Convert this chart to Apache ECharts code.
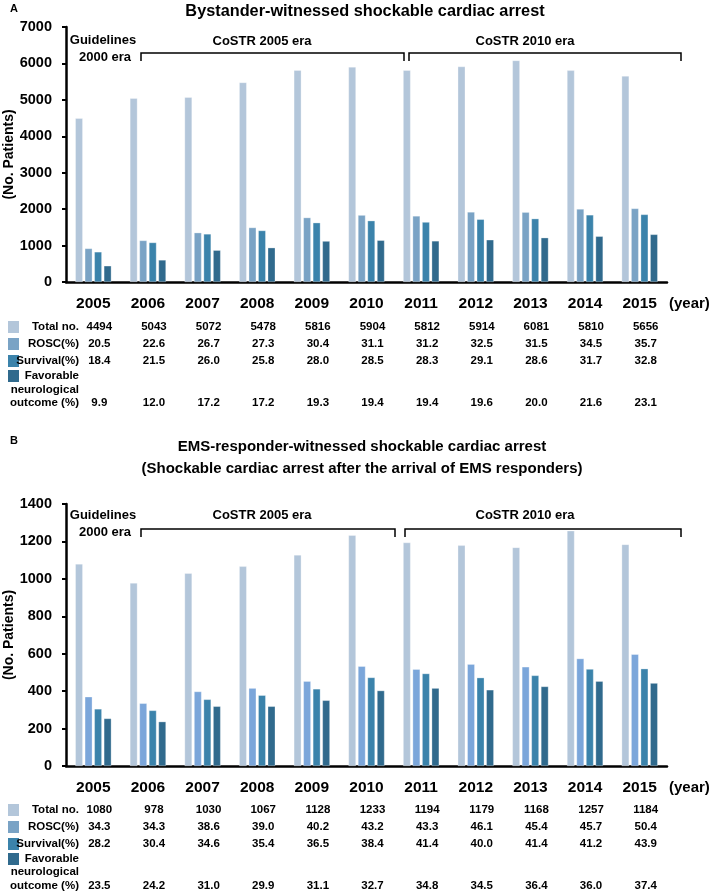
<!DOCTYPE html>
<html><head><meta charset="utf-8">
<script src="https://cdn.jsdelivr.net/npm/echarts@6/dist/echarts.min.js"></script>
<style>html,body{margin:0;padding:0;background:#fff}#c{width:709px;height:895px}</style>
</head><body><div id="c"></div>
<script>
const years = ['2005','2006','2007','2008','2009','2010','2011','2012','2013','2014','2015'];
// Panel A: bystander-witnessed (bar values = number of patients)
const aTotal = [4494,5043,5072,5478,5816,5904,5812,5914,6081,5810,5656];
const aRosc  = [921,1140,1354,1495,1768,1836,1813,1922,1916,2004,2019];
const aSurv  = [827,1084,1319,1413,1628,1683,1645,1721,1739,1842,1855];
const aFav   = [445,605,872,942,1123,1145,1128,1159,1216,1255,1307];
// Panel A table
const aTabTotal = ['4494','5043','5072','5478','5816','5904','5812','5914','6081','5810','5656'];
const aTabRosc  = ['20.5','22.6','26.7','27.3','30.4','31.1','31.2','32.5','31.5','34.5','35.7'];
const aTabSurv  = ['18.4','21.5','26.0','25.8','28.0','28.5','28.3','29.1','28.6','31.7','32.8'];
const aTabFav   = ['9.9','12.0','17.2','17.2','19.3','19.4','19.4','19.6','20.0','21.6','23.1'];
// Panel B: EMS-responder-witnessed
const bTotal = [1080,978,1030,1067,1128,1233,1194,1179,1168,1257,1184];
const bRosc  = [370,335,398,416,453,533,517,544,530,574,597];
const bSurv  = [305,297,356,378,412,473,494,472,484,518,520];
const bFav   = [254,237,319,319,351,403,416,407,425,453,443];
const bTabTotal = ['1080','978','1030','1067','1128','1233','1194','1179','1168','1257','1184'];
const bTabRosc  = ['34.3','34.3','38.6','39.0','40.2','43.2','43.3','46.1','45.4','45.7','50.4'];
const bTabSurv  = ['28.2','30.4','34.6','35.4','36.5','38.4','41.4','40.0','41.4','41.2','43.9'];
const bTabFav   = ['23.5','24.2','31.0','29.9','31.1','32.7','34.8','34.5','36.4','36.0','37.4'];
const rowLabels = ['Total no.','ROSC(%)','Survival(%)','Favorable','neurological','outcome (%)'];

const F = '"Liberation Sans", Arial, sans-serif';
const C_TOTAL = '#b3c6da', C_ROSC_A = '#7aa3c5', C_ROSC_B = '#7ba6da', C_SURV = '#3b83ab', C_FAV = '#306a8d';

const chart = echarts.init(document.getElementById('c'), null, {renderer:'canvas'});

function mainX(gi){
  return {type:'category', gridIndex:gi, data:years, position:'bottom',
    axisLine:{show:true, lineStyle:{color:'#000', width:2.5}},
    axisTick:{show:false},
    axisLabel:{color:'#000', fontFamily:F, fontWeight:'bold', fontSize:15.5, margin:22, verticalAlign:'middle', interval:0}};
}
function tabX(gi, data, off){
  return {type:'category', gridIndex:gi, data:data, position:'bottom', offset:off,
    axisLine:{show:false}, axisTick:{show:false}, splitLine:{show:false},
    axisLabel:{color:'#000', fontFamily:F, fontWeight:'bold', fontSize:11.5, margin:0, verticalAlign:'middle', interval:0, padding:[0,0,0,12]}};
}
function yAx(gi, max, interval){
  return {type:'value', gridIndex:gi, min:0, max:max, interval:interval,
    name:'(No. Patients)', nameLocation:'middle', nameRotate:90, nameGap:50, nameMoveOverlap:false,
    nameTextStyle:{color:'#000', fontFamily:F, fontWeight:'bold', fontSize:14},
    axisLine:{show:true, lineStyle:{color:'#000', width:2.5}},
    axisTick:{show:true, length:4, lineStyle:{color:'#000', width:2}},
    axisLabel:{color:'#000', fontFamily:F, fontWeight:'bold', fontSize:14.5, margin:14, formatter:(v)=>String(v)},
    splitLine:{show:false}};
}
function bar(xi, yi, data, color){
  return {type:'bar', xAxisIndex:xi, yAxisIndex:yi, data:data, barWidth:7.5, barGap:'27%',
    itemStyle:{color:color, borderColor:'rgba(255,255,255,0.6)', borderWidth:0.5}, silent:true};
}

const graphics = [];
function txt(x,y,s,opt){
  graphics.push({type:'text', x:x, y:y, silent:true, z:10,
    style:Object.assign({text:s, fill:'#000', font:'bold 13px '+F, textAlign:'center', textVerticalAlign:'middle'}, opt||{})});
}
function bracket(x1,x2,y){
  graphics.push({type:'polyline', silent:true, shape:{points:[[x1,y+8],[x1,y],[x2,y],[x2,y+8]]}, style:{stroke:'#000', lineWidth:1.5, fill:null}});
}
function tableLabels(ys, roscColor){
  const cols = [C_TOTAL, roscColor, C_SURV, C_FAV];
  [0,1,2,3].forEach(i=>{
    graphics.push({type:'rect', silent:true, shape:{x:8, y:ys[i]-6, width:11, height:12}, style:{fill:cols[i]}});
  });
  rowLabels.forEach((l,i)=>txt(79, ys[i], l, {textAlign:'right', font:'bold 11.5px '+F}));
}

// Panel A texts
txt(10, 9, 'A', {font:'bold 11px '+F, textAlign:'left'});
txt(365, 12, 'Bystander-witnessed shockable cardiac arrest', {font:'bold 16.3px '+F});
txt(103, 40, 'Guidelines', {font:'bold 13px '+F});
txt(105, 57, '2000 era', {font:'bold 13px '+F});
txt(262, 41, 'CoSTR 2005 era', {font:'bold 13px '+F});
txt(525, 41, 'CoSTR 2010 era', {font:'bold 13px '+F});
bracket(141, 404, 53);
bracket(409, 681, 53);
txt(669, 304, '(year)', {font:'bold 15px '+F, textAlign:'left'});
tableLabels([327, 344, 361, 376, 390, 403], C_ROSC_A);

// Panel B texts
txt(10, 441, 'B', {font:'bold 11px '+F, textAlign:'left'});
txt(362, 447, 'EMS-responder-witnessed shockable cardiac arrest', {font:'bold 15px '+F});
txt(362, 469, '(Shockable cardiac arrest after the arrival of EMS responders)', {font:'bold 15px '+F});
txt(103, 515, 'Guidelines', {font:'bold 13px '+F});
txt(105, 532, '2000 era', {font:'bold 13px '+F});
txt(262, 515, 'CoSTR 2005 era', {font:'bold 13px '+F});
txt(525, 515, 'CoSTR 2010 era', {font:'bold 13px '+F});
bracket(141, 395, 529);
bracket(405, 681, 529);
txt(669, 788, '(year)', {font:'bold 15px '+F, textAlign:'left'});
tableLabels([810, 827, 844, 859, 872, 886], C_ROSC_A);

const option = {
  animation:false,
  backgroundColor:'#fff',
  grid:[
    {left:66, right:42, top:27, height:255, outerBoundsMode:'none', containLabel:false},
    {left:66, right:42, top:504, height:262, outerBoundsMode:'none', containLabel:false}
  ],
  xAxis:[
    mainX(0),
    tabX(0, aTabTotal, 45), tabX(0, aTabRosc, 62), tabX(0, aTabSurv, 79), tabX(0, aTabFav, 121),
    mainX(1),
    tabX(1, bTabTotal, 44), tabX(1, bTabRosc, 61), tabX(1, bTabSurv, 78), tabX(1, bTabFav, 120)
  ],
  yAxis:[ yAx(0, 7000, 1000), yAx(1, 1400, 200) ],
  series:[
    bar(0,0,aTotal,C_TOTAL), bar(0,0,aRosc,C_ROSC_A), bar(0,0,aSurv,C_SURV), bar(0,0,aFav,C_FAV),
    bar(5,1,bTotal,C_TOTAL), bar(5,1,bRosc,C_ROSC_B), bar(5,1,bSurv,C_SURV), bar(5,1,bFav,C_FAV)
  ],
  graphic:graphics
};
chart.setOption(option);
</script></body></html>
